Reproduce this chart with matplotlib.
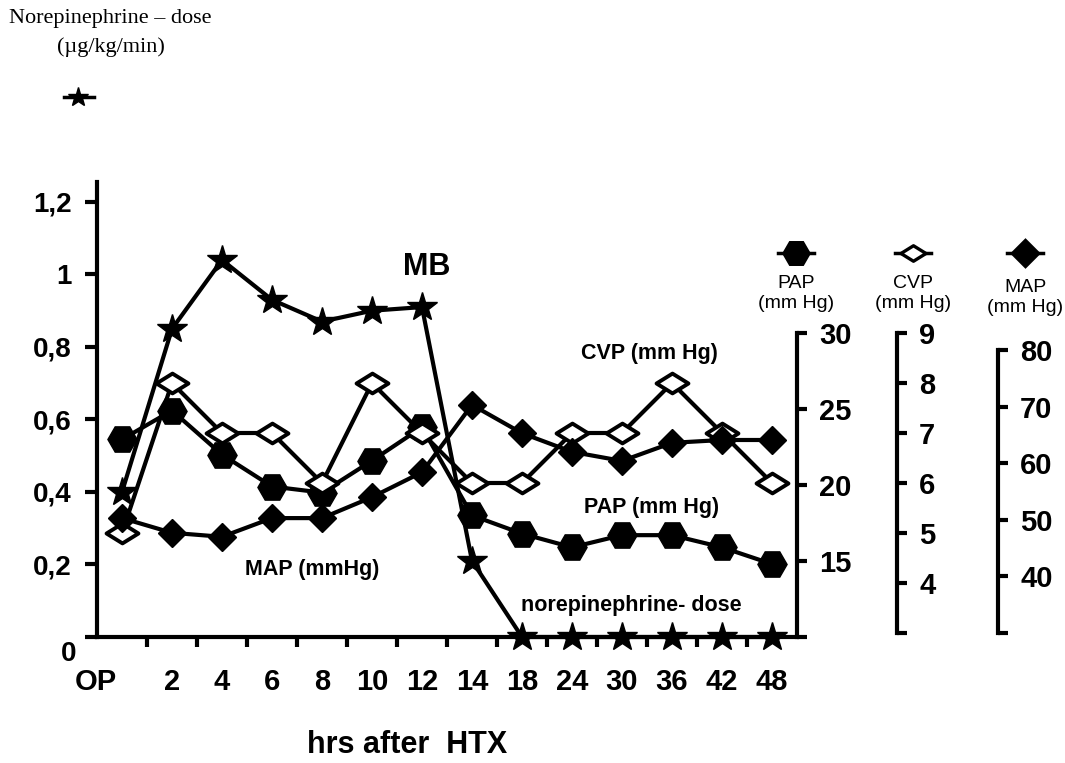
import numpy as np
import matplotlib.pyplot as plt
from matplotlib.lines import Line2D
from matplotlib.path import Path
from matplotlib.transforms import ScaledTranslation

plt.rcParams['font.family'] = ['Liberation Sans', 'DejaVu Sans']

# data
hours = ['OP', '2', '4', '6', '8', '10', '12', '14', '18', '24', '30', '36', '42', '48']
norepi = [0.40, 0.85, 1.04, 0.93, 0.87, 0.90, 0.91, 0.21, 0, 0, 0, 0, 0, 0]
pap = [23.0, 24.9, 22.0, 19.9, 19.5, 21.6, 23.8, 18.0, 16.8, 15.9, 16.7, 16.7, 15.9, 14.8]
cvp = [5, 8, 7, 7, 6, 8, 7, 6, 6, 7, 7, 8, 7, 6]
map_ = [50.3, 47.7, 47.0, 50.3, 50.3, 54.0, 58.4, 70.3, 65.3, 62.0, 60.4, 63.6, 64.1, 64.1]

left_ticks = [0, 0.2, 0.4, 0.6, 0.8, 1.0, 1.2]
left_labels = ['0', '0,2', '0,4', '0,6', '0,8', '1', '1,2']

W, H = 1065, 763
def fx(px):
    return px / W
def fy(py):
    return 1 - py / H

# flat open diamond like in the scan
flat_diamond = Path([(-1, 0), (0, 0.62), (1, 0), (0, -0.62), (-1, 0)], closed=True)

fig = plt.figure(figsize=(W / 100, H / 100), dpi=100)
ax = fig.add_axes([fx(97), fy(637), fx(700), 455 / H])

x = np.arange(len(hours))
lw = 3

# main axis: norepinephrine dose
ax.plot(x, norepi, color='black', lw=lw, marker='*', ms=22, clip_on=False, zorder=5)
ax.set_xlim(-0.5, 13.5)
ax.set_ylim(0, 1.255)
for s in ['top', 'right']:
    ax.spines[s].set_visible(False)
for s in ['left', 'bottom']:
    ax.spines[s].set_linewidth(lw)

ax.set_xticks(x)
ax.set_xticklabels(hours, fontsize=21, fontweight='bold',
                   family=['DejaVu Sans Condensed', 'Liberation Sans'])
ax.tick_params(axis='x', which='major', length=0, pad=22)
ax.set_xticks(np.arange(0.5, 13, 1), minor=True)
ax.tick_params(axis='x', which='minor', length=7, width=lw, direction='out')
lab_op = ax.xaxis.get_majorticklabels()[0]
lab_op.set_transform(lab_op.get_transform() + ScaledTranslation(-26 / 100, 0, fig.dpi_scale_trans))

ax.set_yticks(left_ticks)
ax.set_yticklabels(left_labels, fontsize=20, fontweight='bold')
ax.tick_params(axis='y', length=9, width=lw, direction='out', pad=9)
lab0 = ax.yaxis.get_majorticklabels()[0]
lab0.set_transform(lab0.get_transform() + ScaledTranslation(4 / 100, -14 / 100, fig.dpi_scale_trans))


def side_axis(offset, lo, hi, px_per_unit, bottom_gap, ticks, labels):
    a = ax.twinx()
    base = lo - bottom_gap / px_per_unit
    a.set_ylim(base, base + 455 / px_per_unit)
    for s in ['top', 'left', 'bottom']:
        a.spines[s].set_visible(False)
    a.spines['right'].set_position(('axes', offset))
    a.spines['right'].set_bounds(lo, hi)
    a.spines['right'].set_linewidth(lw)
    a.set_yticks(ticks)
    a.set_yticklabels(labels, fontsize=21, fontweight='bold')
    a.tick_params(axis='y', length=7, width=lw, direction='out', pad=9)
    return a


ax_pap = side_axis(1.0, 10, 30, 15.2, 0, [10, 15, 20, 25, 30], ['', '15', '20', '25', '30'])
ax_cvp = side_axis(800 / 700, 3, 9, 50, 4, [3, 4, 5, 6, 7, 8, 9], ['', '4', '5', '6', '7', '8', '9'])
ax_map = side_axis(901 / 700, 30, 80, 5.66, 4, [30, 40, 50, 60, 70, 80], ['', '40', '50', '60', '70', '80'])

ax_pap.plot(x, pap, color='black', lw=lw, marker='H', ms=21, clip_on=False, zorder=4)
ax_map.plot(x, map_, color='black', lw=lw, marker='D', ms=14, clip_on=False, zorder=4)
ax_cvp.plot(x, cvp, color='black', lw=lw, marker=flat_diamond, ms=23, mfc='white',
            mec='black', mew=2.8, clip_on=False, zorder=4)

# annotations inside the plot
bold = dict(fontweight='bold', ha='center', va='center')
fig.text(fx(427), fy(267), 'MB', fontsize=22, **bold)
fig.text(fx(649), fy(353), 'CVP (mm Hg)', fontsize=15.5, **bold)
fig.text(fx(652), fy(508), 'PAP (mm Hg)', fontsize=15.5, **bold)
fig.text(fx(312), fy(569), 'MAP (mmHg)', fontsize=15.5, **bold)
fig.text(fx(631), fy(606), 'norepinephrine- dose', fontsize=15.5, **bold)
fig.text(fx(407), fy(745), 'hrs after  HTX', fontsize=22, **bold)

# top-left key for the dose axis
fig.text(fx(110), fy(19), 'Norepinephrine \u2013 dose', fontsize=16,
         family='Liberation Serif', ha='center', va='center')
fig.text(fx(111), fy(47), '(\u00b5g/kg/min)', fontsize=16,
         family='Liberation Serif', ha='center', va='center')
fig.add_artist(Line2D([fx(64), fx(94)], [fy(97), fy(97)], color='black', lw=2.5))
fig.add_artist(Line2D([fx(78)], [fy(97)], color='black', marker='*', ms=15))

# keys above the right-hand axes
keys = [(796, 'H', 18, 'black', 'PAP', 0), (913, flat_diamond, 18, 'white', 'CVP', 0),
        (1025, 'D', 13, 'black', 'MAP', 4)]
for cx, mk, ms, fc, name, dy in keys:
    fig.add_artist(Line2D([fx(cx - 18), fx(cx + 18)], [fy(253), fy(253)], color='black', lw=2.5))
    fig.add_artist(Line2D([fx(cx)], [fy(253)], color='black', marker=mk, ms=ms,
                          mfc=fc, mec='black', mew=2.4))
    fig.text(fx(cx), fy(283 + dy), name, fontsize=14, ha='center', va='center')
    fig.text(fx(cx), fy(303 + dy), '(mm Hg)', fontsize=14, ha='center', va='center')

fig.savefig('out.png', dpi=100, facecolor='white')
